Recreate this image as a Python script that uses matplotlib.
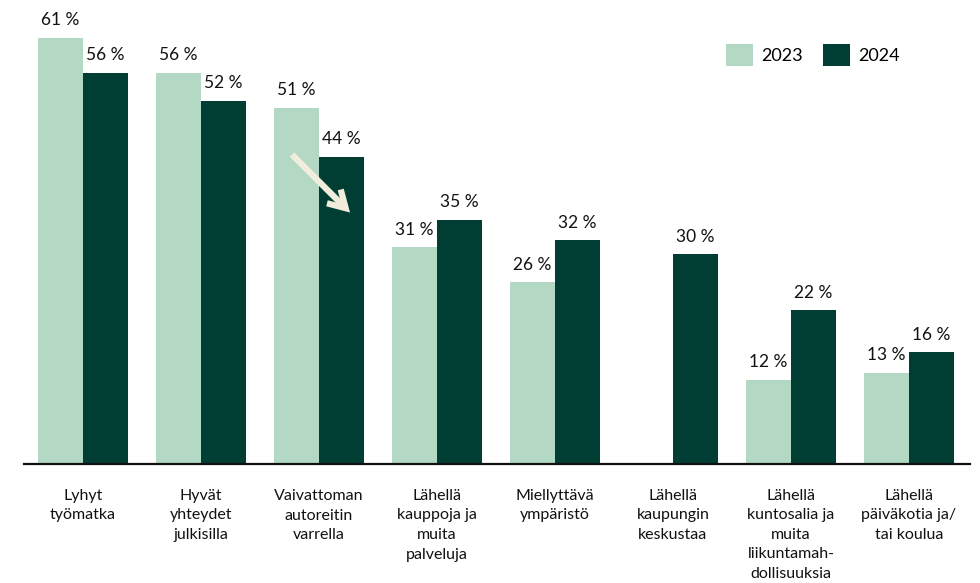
import numpy as np
import matplotlib
matplotlib.use('Agg')
import matplotlib.pyplot as plt

categories = [
    'Lyhyt\ntyömatka',
    'Hyvät\nyhteydet\njulkisilla',
    'Vaivattoman\nautoreitin\nvarrella',
    'Lähellä\nkauppoja ja\nmuita\npalveluja',
    'Miellyttävä\nympäristö',
    'Lähellä\nkaupungin\nkeskustaa',
    'Lähellä\nkuntosalia ja\nmuita\nliikuntamah-\ndollisuuksia',
    'Lähellä\npäiväkotia ja/\ntai koulua',
]
values_2023 = [61, 56, 51, 31, 26, np.nan, 12, 13]
values_2024 = [56, 52, 44, 35, 32, 30, 22, 16]

LIGHT = '#b3d9c4'
DARK = '#003d33'
CREAM = '#f1eddc'

plt.rcParams['font.family'] = ['Lato', 'DejaVu Sans']

fig = plt.figure(figsize=(9.8, 5.83), dpi=100)
ax = fig.add_axes([24 / 980, 119 / 583, 946 / 980, 461 / 583])

x = np.arange(len(categories))
w = 0.381
b1 = ax.bar(x - w / 2, values_2023, w, color=LIGHT, label='2023')
b2 = ax.bar(x + w / 2, values_2024, w, color=DARK, label='2024')

for bars, vals in ((b1, values_2023), (b2, values_2024)):
    for rect, v in zip(bars, vals):
        if np.isnan(v):
            continue
        ax.annotate(f'{v:.0f} %', (rect.get_x() + rect.get_width() / 2, v),
                    xytext=(0, 7), textcoords='offset points',
                    ha='center', va='bottom', fontsize=12.5, color='#111111')

ax.set_xlim(-0.5, 7.517)
ax.set_ylim(0, 66)
ax.set_yticks([])
ax.set_xticks(x)
ax.set_xticklabels(categories, fontsize=11.5, color='#111111', linespacing=1.5)
ax.tick_params(axis='x', length=0, pad=18)
for s in ('top', 'right', 'left'):
    ax.spines[s].set_visible(False)
ax.spines['bottom'].set_linewidth(1.6)
ax.spines['bottom'].set_color('#111111')

# downward trend arrow
ax.annotate('', xy=(2.263, 36.0), xytext=(1.771, 44.3),
            arrowprops=dict(arrowstyle='->,head_length=1.2,head_width=0.7',
                            color=CREAM, lw=4.5, capstyle='butt',
                            joinstyle='miter', shrinkA=0, shrinkB=0))

fig.legend(handles=[b1, b2], loc='upper left', bbox_to_anchor=(719 / 980, 1 - 37 / 583),
           ncol=2, frameon=False, fontsize=13, handlelength=1.5, handleheight=1.5,
           handletextpad=0.45, columnspacing=1.1, borderaxespad=0)

fig.savefig('out.png', dpi=100)
